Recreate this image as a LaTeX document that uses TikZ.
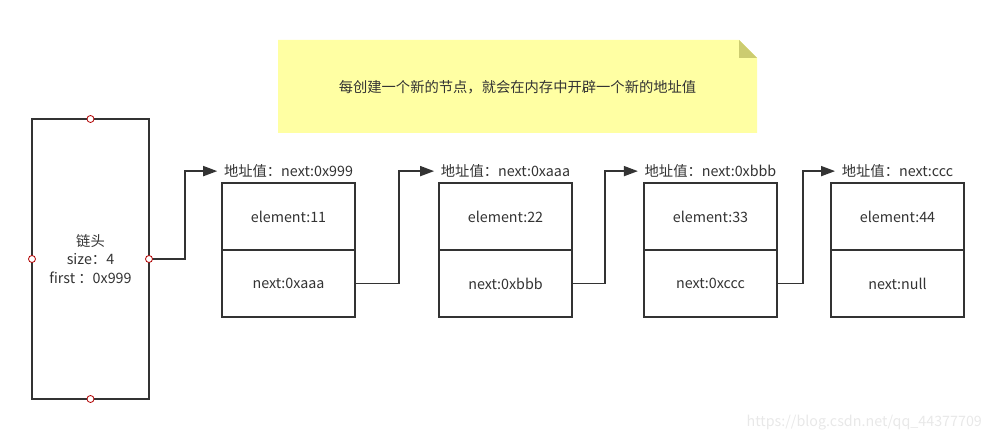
\documentclass[tikz,border=0pt]{standalone}
\usepackage{fontspec}
\setmainfont{Noto Sans CJK SC}
\usetikzlibrary{arrows.meta,positioning}
\definecolor{ink}{HTML}{333333}
\definecolor{notefill}{HTML}{FFFFA3}
\definecolor{notefold}{HTML}{CCCC70}
\definecolor{portred}{HTML}{B20000}

\begin{document}
\begin{tikzpicture}[x=1pt,y=-1pt,>={Triangle[length=14pt,width=10pt]},line width=1.6pt,
  font=\fontsize{14.3}{18.5}\selectfont,text=ink,
  cell/.style={rectangle,draw=ink,minimum width=133pt,minimum height=67pt,outer sep=0pt,inner sep=0pt},
  addr/.style={inner sep=3pt},
  link/.style={->,draw=ink,shorten >=3pt}]
\useasboundingbox (0,0) rectangle (994,443);

% sticky note
\fill[notefill] (278,40) -- (739,40) -- (757,58) -- (757,133) -- (278,133) -- cycle;
\fill[notefold] (739,40) -- (757,58) -- (739,58) -- cycle;
\node (memo) at (517.5,87) {每创建一个新的节点，就会在内存中开辟一个新的地址值};

% list head
\node (head) [rectangle,draw=ink,minimum width=117pt,minimum height=280pt,outer sep=0pt,align=center] at (90.5,259) {链头\\size：4\\first ：0x999};

% nodes
\node (e1) [cell] at (288.5,216.5) {element:11};
\node (n1) [cell,below=0pt of e1] {next:0xaaa};
\node (e2) [cell,right=84pt of e1] {element:22};
\node (n2) [cell,below=0pt of e2] {next:0xbbb};
\node (e3) [cell,right=72pt of e2] {element:33};
\node (n3) [cell,below=0pt of e3] {next:0xccc};
\node (e4) [cell,right=54pt of e3] {element:44};
\node (n4) [cell,below=0pt of e4] {next:null};

\node (a1) [addr,above=1.5pt of e1] {地址值：next:0x999};
\node (a2) [addr,above=1.5pt of e2] {地址值：next:0xaaa};
\node (a3) [addr,above=1.5pt of e3] {地址值：next:0xbbb};
\node (a4) [addr,above=1.5pt of e4] {地址值：next:ccc};

\draw[link] (head.east) -- ++(36,0) |- (a1.west);
\draw[link] (n1.east) -- ++(44,0) |- (a2.west);
\draw[link] (n2.east) -- ++(33,0) |- (a3.west);
\draw[link] (n3.east) -- ++(26,0) |- (a4.west);

\foreach \a in {north,south,east,west}
  \draw[portred,line width=0.8pt,fill=white] (head.\a) circle (3.5pt);

\node (mark) [text=black!9,anchor=east] at (986,423) {https://blog.csdn.net/qq\_44377709};
\end{tikzpicture}
\end{document}
